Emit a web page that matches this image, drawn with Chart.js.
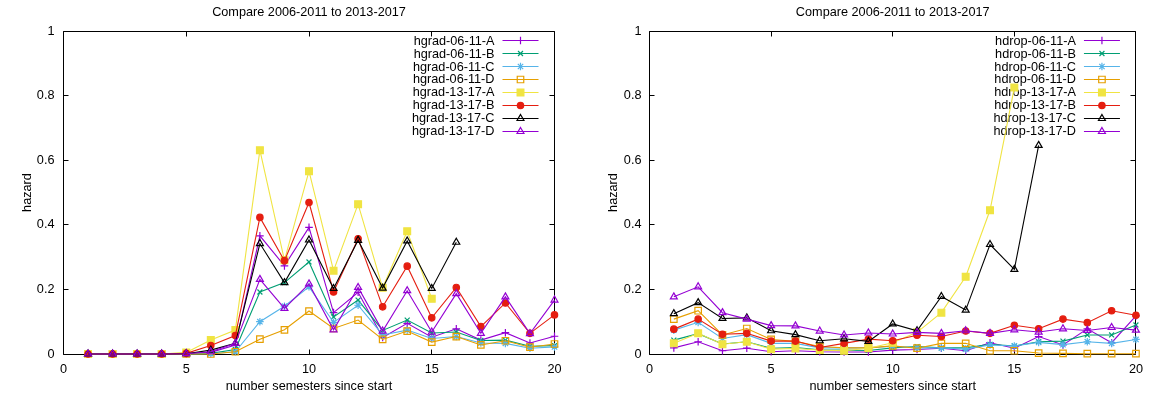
<!DOCTYPE html>
<html lang="en">
<head>
  <meta charset="UTF-8">
  <title>Compare 2006-2011 to 2013-2017</title>
  <script src="https://cdn.jsdelivr.net/npm/chart.js"></script>
  <style>
    html, body { margin: 0; padding: 0; background: #fff; }
    body { width: 1151px; height: 396px; position: relative; overflow: hidden; }
    .box { position: absolute; top: 0; height: 396px; }
    #leftBox { left: 0; width: 576px; }
    #rightBox { left: 576px; width: 575px; }
  </style>
</head>
<body>
  <div class="box" id="leftBox"><canvas id="gradChart"></canvas></div>
  <div class="box" id="rightBox"><canvas id="dropChart"></canvas></div>
  <script>
    // data
    var semesters = [1, 2, 3, 4, 5, 6, 7, 8, 9, 10, 11, 12, 13, 14, 15, 16, 17, 18, 19, 20];
    var xTicks = [0, 5, 10, 15, 20];
    var yTicks = [0, 0.2, 0.4, 0.6, 0.8, 1];
    var titleText = 'Compare 2006-2011 to 2013-2017';
    var xTitle = 'number semesters since start';
    var yTitle = 'hazard';

    var gradLabels = ['hgrad-06-11-A', 'hgrad-06-11-B', 'hgrad-06-11-C', 'hgrad-06-11-D',
                      'hgrad-13-17-A', 'hgrad-13-17-B', 'hgrad-13-17-C', 'hgrad-13-17-D'];
    var grad0611A = [0, 0, 0, 0, 0.002, 0.005, 0.028, 0.366, 0.273, 0.392, 0.128, 0.191, 0.051, 0.095, 0.052, 0.078, 0.043, 0.066, 0.034, 0.055];
    var grad0611B = [0, 0, 0, 0, 0, 0.002, 0.014, 0.192, 0.221, 0.285, 0.115, 0.167, 0.073, 0.105, 0.065, 0.068, 0.042, 0.043, 0.024, 0.026];
    var grad0611C = [0, 0, 0, 0, 0, 0.001, 0.007, 0.100, 0.148, 0.208, 0.098, 0.151, 0.059, 0.074, 0.048, 0.054, 0.034, 0.033, 0.018, 0.022];
    var grad0611D = [0, 0, 0, 0, 0, 0, 0.007, 0.046, 0.075, 0.133, 0.079, 0.105, 0.045, 0.071, 0.037, 0.054, 0.028, 0.041, 0.021, 0.031];
    var grad1317A = [0, 0, 0, 0, 0.005, 0.043, 0.074, 0.631, 0.290, 0.566, 0.258, 0.464, 0.205, 0.380, 0.171];
    var grad1317B = [0, 0, 0, 0, 0.002, 0.026, 0.057, 0.423, 0.289, 0.469, 0.192, 0.357, 0.146, 0.272, 0.112, 0.206, 0.085, 0.158, 0.064, 0.121];
    var grad1317C = [0, 0, 0, 0, 0.001, 0.012, 0.033, 0.342, 0.221, 0.353, 0.203, 0.352, 0.204, 0.350, 0.203, 0.346];
    var grad1317D = [0, 0, 0, 0, 0.001, 0.007, 0.033, 0.231, 0.141, 0.217, 0.075, 0.206, 0.071, 0.196, 0.068, 0.187, 0.064, 0.177, 0.063, 0.167];

    var dropLabels = ['hdrop-06-11-A', 'hdrop-06-11-B', 'hdrop-06-11-C', 'hdrop-06-11-D',
                      'hdrop-13-17-A', 'hdrop-13-17-B', 'hdrop-13-17-C', 'hdrop-13-17-D'];
    var drop0611A = [0.019, 0.038, 0.010, 0.018, 0.007, 0.010, 0.007, 0.006, 0.006, 0.012, 0.014, 0.018, 0.010, 0.035, 0.018, 0.054, 0.028, 0.078, 0.035, 0.118];
    var drop0611B = [0.043, 0.063, 0.031, 0.038, 0.018, 0.020, 0.013, 0.012, 0.011, 0.019, 0.023, 0.019, 0.019, 0.030, 0.025, 0.038, 0.040, 0.059, 0.059, 0.090];
    var drop0611C = [0.074, 0.098, 0.048, 0.060, 0.033, 0.033, 0.019, 0.019, 0.019, 0.024, 0.019, 0.019, 0.015, 0.028, 0.025, 0.036, 0.029, 0.038, 0.033, 0.045];
    var drop0611D = [0.108, 0.134, 0.059, 0.079, 0.045, 0.039, 0.023, 0.019, 0.019, 0.025, 0.018, 0.033, 0.033, 0.010, 0.010, 0.003, 0.002, 0.001, 0.001, 0.001];
    var drop1317A = [0.033, 0.064, 0.030, 0.038, 0.015, 0.017, 0.012, 0.010, 0.018, 0.035, 0.067, 0.128, 0.239, 0.445, 0.825];
    var drop1317B = [0.077, 0.108, 0.061, 0.064, 0.040, 0.040, 0.020, 0.033, 0.046, 0.041, 0.058, 0.054, 0.071, 0.064, 0.089, 0.078, 0.108, 0.097, 0.134, 0.120];
    var drop1317C = [0.125, 0.159, 0.110, 0.112, 0.072, 0.060, 0.041, 0.047, 0.039, 0.093, 0.072, 0.178, 0.136, 0.339, 0.262, 0.646];
    var drop1317D = [0.177, 0.208, 0.128, 0.108, 0.088, 0.087, 0.071, 0.059, 0.065, 0.062, 0.067, 0.064, 0.072, 0.064, 0.075, 0.068, 0.078, 0.073, 0.082, 0.074];

    // gnuplot-like line styles, one per series
    var lineColors = ['#9400d3', '#009e73', '#56b4e9', '#e69f00', '#f0e442', '#e51e10', '#000000', '#9400d3'];
    var markerStyles = ['cross', 'crossRot', 'star', 'rect', 'rect', 'circle', 'triangle', 'triangle'];
    var markerFills = ['transparent', 'transparent', 'transparent', 'transparent', '#f0e442', '#e51e10', 'transparent', 'transparent'];
    var markerSizes = [3.8, 3.5, 3.8, 4.6, 4.8, 3.2, 4, 4];

    var fontFamily = "'Liberation Sans', Arial, sans-serif";
    var fontSize = 12.7;

    function makeDatasets(labels, series) {
      return series.map(function (values, i) {
        return {
          label: labels[i],
          data: values.map(function (v, k) { return { x: semesters[k], y: v }; }),
          borderColor: lineColors[i],
          backgroundColor: markerFills[i],
          borderWidth: 1.1,
          pointStyle: markerStyles[i],
          pointRadius: markerSizes[i],
          pointBorderWidth: 1.2,
          pointBorderColor: lineColors[i],
          pointBackgroundColor: markerFills[i],
          tension: 0,
          clip: false,
          order: series.length - i
        };
      });
    }

    function crisp(v) { return Math.floor(v) + 0.5; }

    // border box with inward ticks on all four sides
    var framePlugin = {
      id: 'frame',
      beforeDatasetsDraw: function (chart) {
        var a = chart.chartArea, ctx = chart.ctx;
        var xs = chart.scales.x, ys = chart.scales.y;
        var l = crisp(a.left), r = crisp(a.right), t = crisp(a.top), b = crisp(a.bottom);
        ctx.save();
        ctx.strokeStyle = '#000';
        ctx.lineWidth = 1;
        ctx.beginPath();
        ctx.rect(l, t, r - l, b - t);
        xTicks.forEach(function (v) {
          var px = crisp(xs.getPixelForValue(v));
          ctx.moveTo(px, b); ctx.lineTo(px, b - 5);
          ctx.moveTo(px, t); ctx.lineTo(px, t + 5);
        });
        yTicks.forEach(function (v) {
          var py = crisp(ys.getPixelForValue(v));
          ctx.moveTo(l, py); ctx.lineTo(l + 5, py);
          ctx.moveTo(r, py); ctx.lineTo(r - 5, py);
        });
        ctx.stroke();
        ctx.restore();
      }
    };

    // key in the top right corner: text, then line sample with marker
    var keyPlugin = {
      id: 'key',
      beforeDatasetsDraw: function (chart) {
        var a = chart.chartArea, ctx = chart.ctx;
        ctx.save();
        ctx.font = fontSize + 'px ' + fontFamily;
        ctx.textAlign = 'right';
        ctx.textBaseline = 'middle';
        chart.data.datasets.forEach(function (ds, i) {
          var y = a.top + 9.7 + i * 12.9;
          ctx.fillStyle = '#000';
          ctx.fillText(ds.label, a.right - 60, y + 0.5);
          ctx.strokeStyle = ds.borderColor;
          ctx.lineWidth = 1.2;
          ctx.beginPath();
          ctx.moveTo(a.right - 52, crisp(y));
          ctx.lineTo(a.right - 16, crisp(y));
          ctx.stroke();
          ctx.fillStyle = ds.pointBackgroundColor;
          Chart.helpers.drawPoint(ctx, {
            pointStyle: ds.pointStyle, radius: ds.pointRadius, borderWidth: 1.2, rotation: 0
          }, a.right - 34, crisp(y));
        });
        ctx.restore();
      }
    };

    function makeChart(canvasId, datasets, yWidth, rightPad, yTitlePad, yTickPad) {
      var ctx = document.getElementById(canvasId).getContext('2d');
      return new Chart(ctx, {
        type: 'line',
        data: { datasets: datasets },
        options: {
          responsive: true,
          maintainAspectRatio: false,
          animation: false,
          layout: { padding: { left: 0, right: rightPad, top: 0, bottom: 0 } },
          plugins: {
            legend: { display: false },
            tooltip: { enabled: false },
            title: {
              display: true,
              text: titleText,
              fullSize: false,
              color: '#000',
              font: { family: fontFamily, size: fontSize, weight: 'normal' },
              padding: { top: 4.5, bottom: 11.3 }
            }
          },
          scales: {
            x: {
              type: 'linear',
              min: 0,
              max: 20,
              afterBuildTicks: function (s) { s.ticks = xTicks.map(function (v) { return { value: v }; }); },
              afterFit: function (s) { s.height = 42; },
              grid: { display: false, drawTicks: false },
              border: { display: false },
              ticks: {
                color: '#000', padding: 8, maxRotation: 0,
                font: { family: fontFamily, size: fontSize },
                callback: function (v) { return String(v); }
              },
              title: {
                display: true, text: xTitle, color: '#000',
                font: { family: fontFamily, size: fontSize },
                padding: { top: 0, bottom: 2 }
              }
            },
            y: {
              min: 0,
              max: 1,
              afterBuildTicks: function (s) { s.ticks = yTicks.map(function (v) { return { value: v }; }); },
              afterFit: function (s) { s.width = yWidth; },
              grid: { display: false, drawTicks: false },
              border: { display: false },
              ticks: {
                color: '#000', padding: yTickPad,
                font: { family: fontFamily, size: fontSize },
                callback: function (v) { return String(v); }
              },
              title: {
                display: true, text: yTitle, color: '#000',
                font: { family: fontFamily, size: fontSize },
                padding: { top: yTitlePad, bottom: 0 }
              }
            }
          }
        },
        plugins: [framePlugin, keyPlugin]
      });
    }

    makeChart('gradChart',
      makeDatasets(gradLabels, [grad0611A, grad0611B, grad0611C, grad0611D, grad1317A, grad1317B, grad1317C, grad1317D]),
      63.5, 21.5, 20, 9);
    makeChart('dropChart',
      makeDatasets(dropLabels, [drop0611A, drop0611B, drop0611C, drop0611D, drop1317A, drop1317B, drop1317C, drop1317D]),
      73.5, 11.5, 29.5, 8);
  </script>
</body>
</html>
